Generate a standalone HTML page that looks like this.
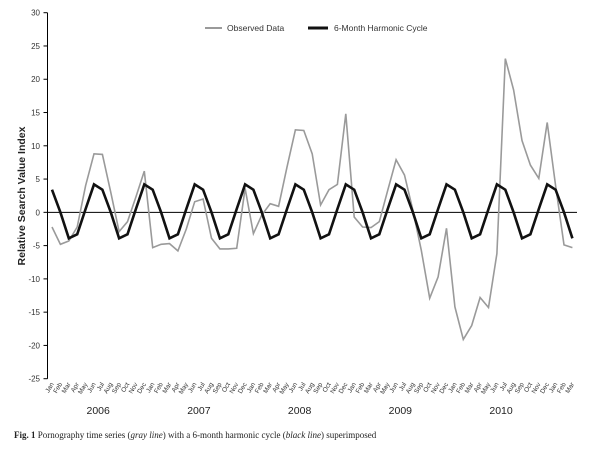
<!DOCTYPE html>
<html><head><meta charset="utf-8">
<style>
html,body{margin:0;padding:0;background:#fff;}
svg{display:block;font-family:"Liberation Sans",Arial,sans-serif;}
</style></head>
<body>
<svg id="chart" width="602" height="457" viewBox="0 0 602 457" xmlns="http://www.w3.org/2000/svg">
  <g id="legend">
    <line x1="205" y1="28" x2="222" y2="28" stroke="#9a9a9a" stroke-width="2"/>
    <text x="227" y="31" font-size="8.5" fill="#333">Observed Data</text>
    <line x1="308" y1="28" x2="328" y2="28" stroke="#111" stroke-width="3"/>
    <text x="334" y="31" font-size="8.5" fill="#333">6-Month Harmonic Cycle</text>
  </g>
  <text transform="translate(25,196) rotate(-90)" text-anchor="middle" font-size="10.5" font-weight="bold" fill="#222">Relative Search Value Index</text>
  <text x="14" y="438" font-family="Liberation Serif,serif" font-size="9" fill="#222"><tspan font-weight="bold">Fig. 1</tspan>  Pornography time series (<tspan font-style="italic">gray line</tspan>) with a 6-month harmonic cycle (<tspan font-style="italic">black line</tspan>) superimposed</text>
</svg>
<script>
const months = ["Jan","Feb","Mar","Apr","May","Jun","Jul","Aug","Sep","Oct","Nov","Dec"];
const years = ["2006","2007","2008","2009","2010"];
const yTicks = [30,25,20,15,10,5,0,-5,-10,-15,-20,-25];
const observed = [-2.2,-4.8,-4.3,-2.2,4.0,8.8,8.7,3.0,-2.9,-1.4,2.3,6.2,
  -5.3,-4.8,-4.7,-5.8,-2.5,1.6,2.0,-3.9,-5.5,-5.5,-5.4,3.6,
  -3.2,-0.4,1.3,0.9,6.8,12.4,12.3,8.8,1.1,3.4,4.2,14.8,
  -0.7,-2.2,-2.3,-1.4,3.3,7.9,5.6,0.3,-5.7,-12.9,-9.7,-2.4,
  -14.2,-19.1,-17.0,-12.8,-14.3,-6.2,23.1,18.4,10.8,7.1,5.1,13.5,
  4.0,-4.9,-5.3];
const harmonic = [3.4,0.0,-3.9,-3.3,0.5,4.2,3.4,0.0,-3.9,-3.3,0.5,4.2,
  3.4,0.0,-3.9,-3.3,0.5,4.2,3.4,0.0,-3.9,-3.3,0.5,4.2,
  3.4,0.0,-3.9,-3.3,0.5,4.2,3.4,0.0,-3.9,-3.3,0.5,4.2,
  3.4,0.0,-3.9,-3.3,0.5,4.2,3.4,0.0,-3.9,-3.3,0.5,4.2,
  3.4,0.0,-3.9,-3.3,0.5,4.2,3.4,0.0,-3.9,-3.3,0.5,4.2,
  3.4,0.0,-3.9];

const NS="http://www.w3.org/2000/svg";
const svg=document.getElementById('chart');
const X0=52, X1=572.4, Y30=12.7, Yn25=378.7, yMax=30, yMin=-25;
const n=observed.length;
function xScale(i){return X0+(X1-X0)*i/(n-1);}
function yScale(v){return Y30+(yMax-v)*(Yn25-Y30)/(yMax-yMin);}
function mk(tag,attrs){const e=document.createElementNS(NS,tag);for(const k in attrs)e.setAttribute(k,attrs[k]);return e;}

// y axis
const yAxis=mk('g',{});


svg.appendChild(yAxis);
const yl=mk('line',{x1:47.5,x2:47.5,y1:yScale(yMax),y2:yScale(yMin),stroke:'#000','stroke-width':1});


yAxis.appendChild(yl);
yTicks.forEach(v=>{
  const y=yScale(v);
  const t=mk('line',{x1:43.5,x2:47.5,y1:y,y2:y,stroke:'#000','stroke-width':1});
  
  
  yAxis.appendChild(t);
  const lb=mk('text',{x:40,y:y+3,'text-anchor':'end','font-size':8,fill:'#333'});
  
  
  lb.textContent=String(v);
  yAxis.appendChild(lb);
});
// zero line
const z=mk('line',{x1:47.5,x2:577,y1:yScale(0),y2:yScale(0),stroke:'#000','stroke-width':1});


svg.appendChild(z);

// x labels
const xAxis=mk('g',{});


svg.appendChild(xAxis);
for(let i=0;i<n;i++){
  const x=xScale(i)+2, y=384;
  const t=mk('text',{x:x,y:y,'text-anchor':'end','font-size':6.5,fill:'#333',transform:`rotate(-60 ${x} ${y})`});
  
  
  t.textContent=months[i%12];
  xAxis.appendChild(t);
}
years.forEach((yr,k)=>{
  const t=mk('text',{x:xScale(k*12+5.5),y:414,'text-anchor':'middle','font-size':10.5,fill:'#222'});
  
  
  t.textContent=yr;
  xAxis.appendChild(t);
});

function pts(arr){return arr.map((v,i)=>xScale(i).toFixed(1)+','+yScale(v).toFixed(1)).join(' ');}
const obs=mk('polyline',{points:pts(observed),fill:'none',stroke:'#9a9a9a','stroke-width':1.6,'stroke-linejoin':'miter'});


svg.appendChild(obs);
const har=mk('polyline',{points:pts(harmonic),fill:'none',stroke:'#111','stroke-width':2.6,'stroke-linejoin':'miter'});


svg.appendChild(har);
</script>
</body></html>
